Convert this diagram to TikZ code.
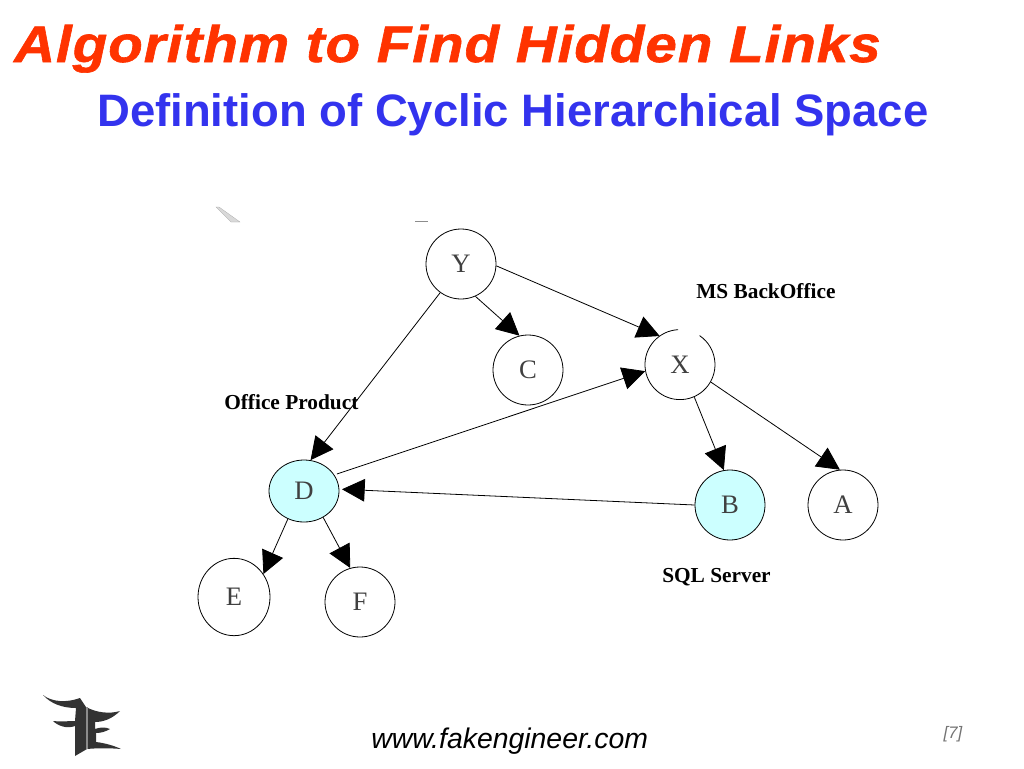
\documentclass[tikz,border=0pt]{standalone}
\usepackage{fontspec}
\setmainfont{Liberation Serif}
\setsansfont{Liberation Sans}
\usetikzlibrary{arrows.meta, shapes.geometric}
\definecolor{titlered}{HTML}{FF3300}
\definecolor{titleblue}{HTML}{3333EE}
\definecolor{hilite}{HTML}{CCFFFF}
\definecolor{logogrey}{HTML}{333333}
\tikzset{
  vertex/.style={circle, draw, semithick, minimum size=52.5pt, inner sep=0pt, font=\fontsize{20}{20}\selectfont, text=black!75},
  oval/.style={ellipse, draw, semithick, inner sep=0pt, font=\fontsize{20}{20}\selectfont, text=black!75},
  edge/.style={-{Triangle[length=17pt,width=17pt]}, semithick},
  tag/.style={font=\bfseries\fontsize{16}{16}\selectfont, inner sep=0pt}
}
\begin{document}
\begin{tikzpicture}[x=0.75pt, y=-0.75pt]
\useasboundingbox (0,0) rectangle (1024,768);

\node[anchor=base west, inner sep=0pt, text=titlered, font=\sffamily\bfseries\itshape\fontsize{38.5}{38.5}\selectfont] (title) at (14,62) {\addfontfeature{FakeStretch=1.1, FakeBold=1.2, LetterSpace=2}Algorithm to Find Hidden Links};
\node[anchor=base west, inner sep=0pt, text=titleblue, font=\sffamily\bfseries\fontsize{34.1}{34.1}\selectfont] (subtitle) at (97,126) {Definition of Cyclic Hierarchical Space};

\node[vertex] (Y) at (461,264) {Y};
\node[vertex] (C) at (528,370) {C};
\node[vertex, draw=none] (X) at (680,365) {X};
\node[oval, fill=hilite, minimum width=52.5pt, minimum height=46.5pt] (D) at (304,491) {D};
\node[vertex, fill=hilite] (B) at (730,505) {B};
\node[vertex] (A) at (843,505) {A};
\node[oval, minimum width=54pt, minimum height=58pt] (E) at (234,597) {E};
\node[vertex] (F) at (360,602) {F};

% X is left open at the top
\draw[semithick] (X.93) arc[start angle=-93, delta angle=-323, radius=35];

\draw[edge] (Y.-3) -- (X.125);
\draw[edge] (Y.-66) -- (C.104);
\draw[edge] (Y.-126) -- (D.78);
\draw[edge, shorten <=2pt] (D.28) -- (X.190);
\draw[edge, shorten >=2pt] (B.west) -- (D.3);
\draw[edge] (X.-66) -- (B.100);
\draw[edge] (X.-29) -- (A.95);
\draw[edge] (D.-120) -- (E.38);
\draw[edge] (D.-54) -- (F.106);

\node[tag, anchor=west] (office) at (224,402) {Office Product};
\node[tag, anchor=west] (backoffice) at (696,291) {MS BackOffice};
\node[tag, anchor=west] (sqlserver) at (662,577) {SQL Server};

% stray marks
\fill[black!15, draw=black!35, very thin] (216,207) -- (219,207) -- (240,222) -- (231,222) -- cycle;
\draw[black!45] (415,221) -- (428,221);

% logo
\fill[logogrey] (43,695) .. controls (52,702) and (66,703) .. (80,698) -- (86,707)
  .. controls (97,713) and (110,714) .. (120,711) .. controls (112,719) and (103,722) .. (95,722)
  -- (95,729) .. controls (100,727) and (106,727) .. (110,729) .. controls (105,732) and (100,733) .. (96,733)
  -- (96,742) .. controls (105,743) and (115,746) .. (121,749) .. controls (110,748) and (97,748) .. (87,749)
  -- (75,756) -- (75,726) .. controls (67,729) and (58,726) .. (53,721) .. controls (60,722) and (68,721) .. (75,721)
  -- (76,708) .. controls (63,708) and (51,704) .. (43,695) -- cycle;
\draw[black!45, line width=1pt] (87,707) -- (87,749);

\node[anchor=west, inner sep=0pt, font=\sffamily\itshape\fontsize{21.3}{21.3}\selectfont] (url) at (371,741) {www.fakengineer.com};
\node[inner sep=0pt, text=black!55, font=\sffamily\itshape\fontsize{12.5}{12.5}\selectfont] (page) at (953,734) {[7]};
\end{tikzpicture}
\end{document}
